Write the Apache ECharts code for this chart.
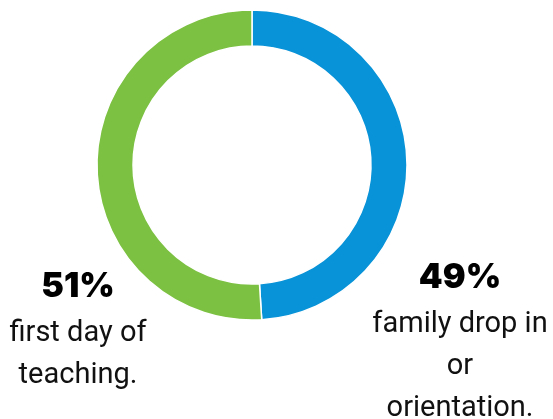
<!DOCTYPE html>
<html><head><meta charset="utf-8">
<script src="https://cdn.jsdelivr.net/npm/echarts@6/dist/echarts.min.js"></script>
<style>html,body{margin:0;padding:0;background:#fff}#c{width:553px;height:419px}</style>
</head><body><div id="c"></div>
<script>
const categories = ['family drop in\nor\norientation.', 'first day of\nteaching.'];
const values = [49, 51];
const colors = ['#0892D7', '#7CC142'];
const labelPos = [[460, 278], [78, 287]];

const chart = echarts.init(document.getElementById('c'));
const graphics = [];
categories.forEach((c, i) => {
  graphics.push({
    type: 'text', position: [labelPos[i][0], labelPos[i][1]],
    style: { text: values[i] + '%', x: 0, y: 0, align: 'center', verticalAlign: 'middle',
      font: '900 34px Inter', fill: '#000' }
  });
  graphics.push({
    type: 'text', position: [labelPos[i][0], labelPos[i][1] + 26],
    style: { text: c, align: 'center', verticalAlign: 'top', font: '400 29px Roboto',
      lineHeight: 42, fill: '#111' }
  });
});

chart.setOption({
  animation: false,
  series: [{
    type: 'pie',
    center: [252, 165],
    radius: [119, 155],
    startAngle: 90,
    clockwise: true,
    label: { show: false },
    labelLine: { show: false },
    itemStyle: { borderColor: '#fff', borderWidth: 1.5 },
    data: categories.map((c, i) => ({ name: c, value: values[i], itemStyle: { color: colors[i] } }))
  }],
  graphic: graphics
});
</script></body></html>
